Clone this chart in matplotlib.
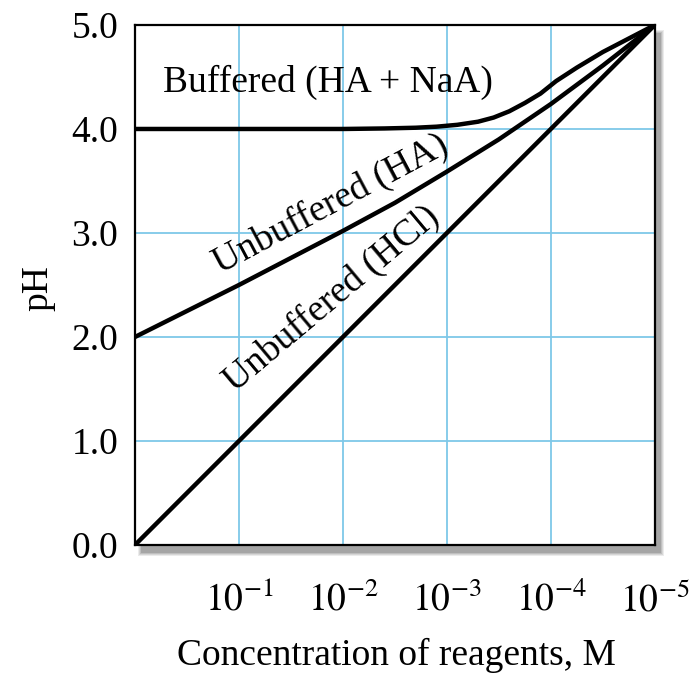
import numpy as np
import matplotlib
matplotlib.use("Agg")
import matplotlib.pyplot as plt
from matplotlib.patches import Rectangle

plt.rcParams['font.family'] = ['Liberation Serif', 'DejaVu Serif']
plt.rcParams['mathtext.fontset'] = 'stix'

# values (x as log10 of concentration, M)
hcl_logc = [0, -1, -2, -3, -4, -5]
hcl_ph = [0.0, 1.0, 2.0, 3.0, 4.0, 5.0]

ha_logc = [0, -0.5, -1, -1.5, -2, -2.5, -3, -3.5, -4, -4.5, -5]
ha_ph = [2.0, 2.25, 2.5, 2.76, 3.02, 3.29, 3.59, 3.9, 4.24, 4.61, 5.0]

buf_logc = [0, -1, -2, -2.4, -2.7, -2.9, -3.1, -3.3, -3.45, -3.6, -3.75, -3.9,
            -4.05, -4.25, -4.5, -4.75, -5]
buf_ph = [4.0, 4.0, 4.0, 4.005, 4.012, 4.022, 4.04, 4.07, 4.11, 4.17, 4.25, 4.34,
          4.46, 4.59, 4.74, 4.87, 5.0]

tick_exps = [-1, -2, -3, -4, -5]
ytick_vals = [0.0, 1.0, 2.0, 3.0, 4.0, 5.0]

fig = plt.figure(figsize=(6.95, 6.73), dpi=100)
ax = fig.add_axes([0.1942, 0.1902, 0.748, 0.7727])

# soft drop shadow behind the frame
for i, a in enumerate([0.10, 0.12, 0.15, 0.2]):
    grow = (3 - i) * 2
    x0 = (141 - grow / 2) / 695
    y0 = 1 - (553 + grow / 2) / 673
    w = (520 + grow) / 695
    h = (520 + grow) / 673
    fig.patches.append(Rectangle((x0, y0), w, h, transform=fig.transFigure,
                                 facecolor='#404040', edgecolor='none', alpha=a, zorder=0))

ax.set_zorder(1)
ax.set_facecolor('white')

lw = 3.2
ax.plot(10.0 ** np.array(hcl_logc), hcl_ph, color='black', lw=lw, solid_capstyle='butt', zorder=3)
ax.plot(10.0 ** np.array(ha_logc), ha_ph, color='black', lw=lw, solid_capstyle='butt', zorder=3)
ax.plot(10.0 ** np.array(buf_logc), buf_ph, color='black', lw=lw, solid_capstyle='butt',
        solid_joinstyle='round', zorder=3)

ax.set_xscale('log')
ax.set_xlim(1, 1e-5)
ax.set_ylim(0, 5)
ax.set_xticks([10.0 ** e for e in tick_exps])
ax.set_xticklabels(['$10^{%d}$' % e for e in tick_exps])
ax.minorticks_off()
ax.set_yticks(ytick_vals)
ax.set_yticklabels(['%.1f' % v for v in ytick_vals])
ax.tick_params(axis='x', length=0, pad=27, labelsize=27)
ax.tick_params(axis='y', length=0, pad=12, labelsize=27)
ax.grid(True, color='#7ec8e8', lw=1.3, zorder=1)
ax.set_axisbelow(True)
for s in ax.spines.values():
    s.set_linewidth(1.6)
    s.set_color('black')
    s.set_zorder(4)

ax.text(10 ** -0.27, 4.45, 'Buffered (HA + NaA)', fontsize=27, ha='left', va='center')
ax.text(10 ** -1.88, 3.28, 'Unbuffered (HA)', fontsize=27, ha='center', va='center',
        rotation=28, rotation_mode='anchor')
ax.text(10 ** -1.89, 2.37, 'Unbuffered (HCl)', fontsize=27, ha='center', va='center',
        rotation=40, rotation_mode='anchor')

fig.text(38 / 695, 1 - 288 / 673, 'pH', fontsize=27, rotation=90, ha='center', va='center')
fig.text(396 / 695, 1 - 655 / 673, 'Concentration of reagents, M', fontsize=27,
         ha='center', va='center')

fig.savefig('out.png', dpi=100)
